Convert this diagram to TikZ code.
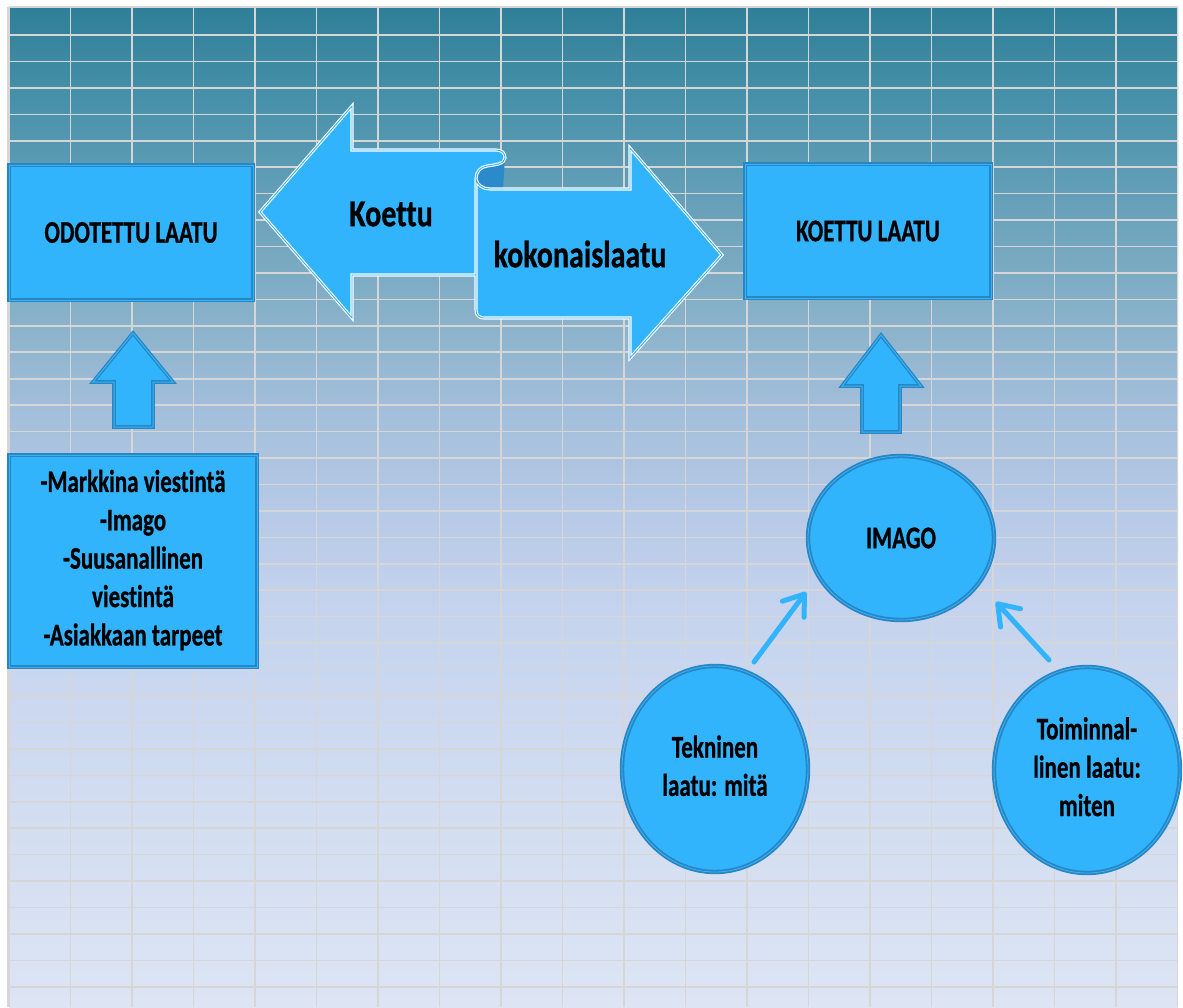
\documentclass[tikz,border=0pt]{standalone}
\usepackage{fontspec}
\setmainfont{Carlito}[Ligatures=NoCommon, BoldFeatures={FakeBold=0.8}]
\usepackage{graphicx}
\usetikzlibrary{shapes.geometric,arrows.meta}
\definecolor{fillc}{HTML}{32B4FD}
\definecolor{bordc}{HTML}{2A86C2}
\definecolor{curlc}{HTML}{2A8ACB}
\definecolor{gridc}{HTML}{D6D6D6}
\definecolor{b0}{HTML}{2E7F97}
\definecolor{b1}{HTML}{4A92AB}
\definecolor{b2}{HTML}{86B0C8}
\definecolor{b3}{HTML}{A2BEDA}
\definecolor{b4}{HTML}{B6C9E6}
\definecolor{b5}{HTML}{C5D3EE}
\definecolor{b6}{HTML}{D2DDF1}
\definecolor{b7}{HTML}{DDE5F4}
\pgfdeclareverticalshading{bgsh}{100bp}{color(0bp)=(b7); color(25bp)=(b7); color(35bp)=(b6); color(45bp)=(b5); color(50bp)=(b4); color(55bp)=(b3); color(60bp)=(b2); color(70bp)=(b1); color(75bp)=(b0); color(100bp)=(b0)}
\newcommand\vs[1]{\scalebox{1}[1.37]{#1}}
\newcommand\vb[1]{\scalebox{1}[1.27]{#1}}
\begin{document}
\begin{tikzpicture}[x=1pt,y=-1pt,
  txt/.style={font=\fontsize{23}{28}\selectfont\bfseries, text=black},
  box/.style={txt, draw=bordc, line width=1.3pt, double=fillc, double distance=1pt, fill=fillc, inner sep=0pt},
  ell/.style={txt, ellipse, draw=bordc, line width=1.8pt, double=fillc, double distance=0.8pt, fill=fillc, inner sep=0pt},
  blockarrow/.style={draw=bordc, line width=1.3pt, double=fillc, double distance=1pt, fill=fillc, line join=miter},
  bigout/.style={draw=white, line width=1.1pt, double=fillc, double distance=0.9pt},
  bigtxt/.style={font=\fontsize{30}{36}\selectfont\bfseries, text=black, inner sep=0pt},
  thinarrow/.style={draw=fillc, line width=5pt, line cap=round, -{Straight Barb[round, length=19pt, width=27pt]}},
  gridline/.style={draw=gridc, line width=1.6pt}]
\useasboundingbox (0,0) rectangle (1183,1007);
\fill[white] (0,0) rectangle (1183,1007);
% background with cell grid
\shade[shading=bgsh] (9,7) rectangle (1178,1007);
\foreach \i in {0,...,19} \draw[gridline] ({9+61.5*\i},7) -- ({9+61.5*\i},1007);
\draw[gridline] (9,7) -- (1178,7);
\foreach \k in {0,...,36} \draw[gridline] (9,{35+26.44*\k}) -- (1178,{35+26.44*\k});
\draw[draw=gridc, line width=2.5pt] (8,7) -- (8,1007);

% boxes
\node[box, minimum width=244pt, minimum height=135pt] (odo) at (131,232.5) {\vs{ODOTETTU LAATU}};
\node[box, minimum width=246pt, minimum height=134pt] (koe) at (868,231) {\vs{KOETTU LAATU}};
\node[box, minimum width=248pt, minimum height=212pt] (list) at (133,561)
  {\vs{\begin{tabular}{@{}c@{}}-Markkina viestintä\\-Imago\\-Suusanallinen\\viestintä\\-Asiakkaan tarpeet\end{tabular}}};

% up block arrows
\draw[blockarrow] (114,427) -- (114,382) -- (93,382) -- (133,333) -- (173,382) -- (153,382) -- (153,427) -- cycle;
\draw[blockarrow] (862,432) -- (862,386) -- (842,386) -- (881,335) -- (921,386) -- (900,386) -- (900,432) -- cycle;

% big double arrow (scroll)
\fill[fillc] (260,212) -- (352,106) -- (352,150) -- (496,150)
  .. controls (502,150) and (505,153) .. (505,158)
  .. controls (505,164) and (494,165) .. (487,166)
  .. controls (480,167) and (476,172) .. (476,179)
  -- (476,275) -- (352,275) -- (352,318) -- cycle;
\fill[curlc] (505,158) .. controls (505,164) and (494,165) .. (487,166)
  .. controls (480,167) and (476,172) .. (476,179)
  .. controls (477,185) and (483,189) .. (490,189) -- (503,189) -- cycle;
\fill[fillc] (476,179) -- (476,310) .. controls (476,315) and (479,318) .. (484,318)
  -- (630,318) -- (630,358) -- (722,255) -- (630,148) -- (630,189) -- (490,189)
  .. controls (483,189) and (477,185) .. (476,179) -- cycle;
\draw[bigout] (476,275) -- (352,275) -- (352,318) -- (260,212) -- (352,106) -- (352,150) -- (496,150)
  .. controls (502,150) and (505,153) .. (505,158)
  .. controls (505,164) and (494,165) .. (487,166)
  .. controls (480,167) and (476,172) .. (476,179)
  -- (476,310) .. controls (476,315) and (479,318) .. (484,318)
  -- (630,318) -- (630,358) -- (722,255) -- (630,148) -- (630,189) -- (490,189)
  .. controls (483,189) and (477,185) .. (476,179);
\node[bigtxt] (koettu) at (391,214) {\vb{Koettu}};
\node[bigtxt] (koko) at (580,254) {\vb{kokonaislaatu}};

% ellipses
\node[ell, minimum width=186pt, minimum height=164pt] (imago) at (901,538) {\vs{IMAGO}};
\node[ell, minimum width=186pt, minimum height=206pt] (tek) at (715,769)
  {\vs{\begin{tabular}{@{}c@{}}Tekninen\\laatu: mitä\end{tabular}}};
\node[ell, minimum width=186pt, minimum height=206pt] (toi) at (1087,770)
  {\vs{\begin{tabular}{@{}c@{}}Toiminnal-\\linen laatu:\\miten\end{tabular}}};

% thin arrows
\coordinate (tekout) at (754,662);
\coordinate (imagoin1) at (806,592);
\coordinate (toiout) at (1049,660);
\coordinate (imagoin2) at (996,602);
\draw[thinarrow] (tekout) -- (imagoin1);
\draw[thinarrow] (toiout) -- (imagoin2);
\end{tikzpicture}
\end{document}
